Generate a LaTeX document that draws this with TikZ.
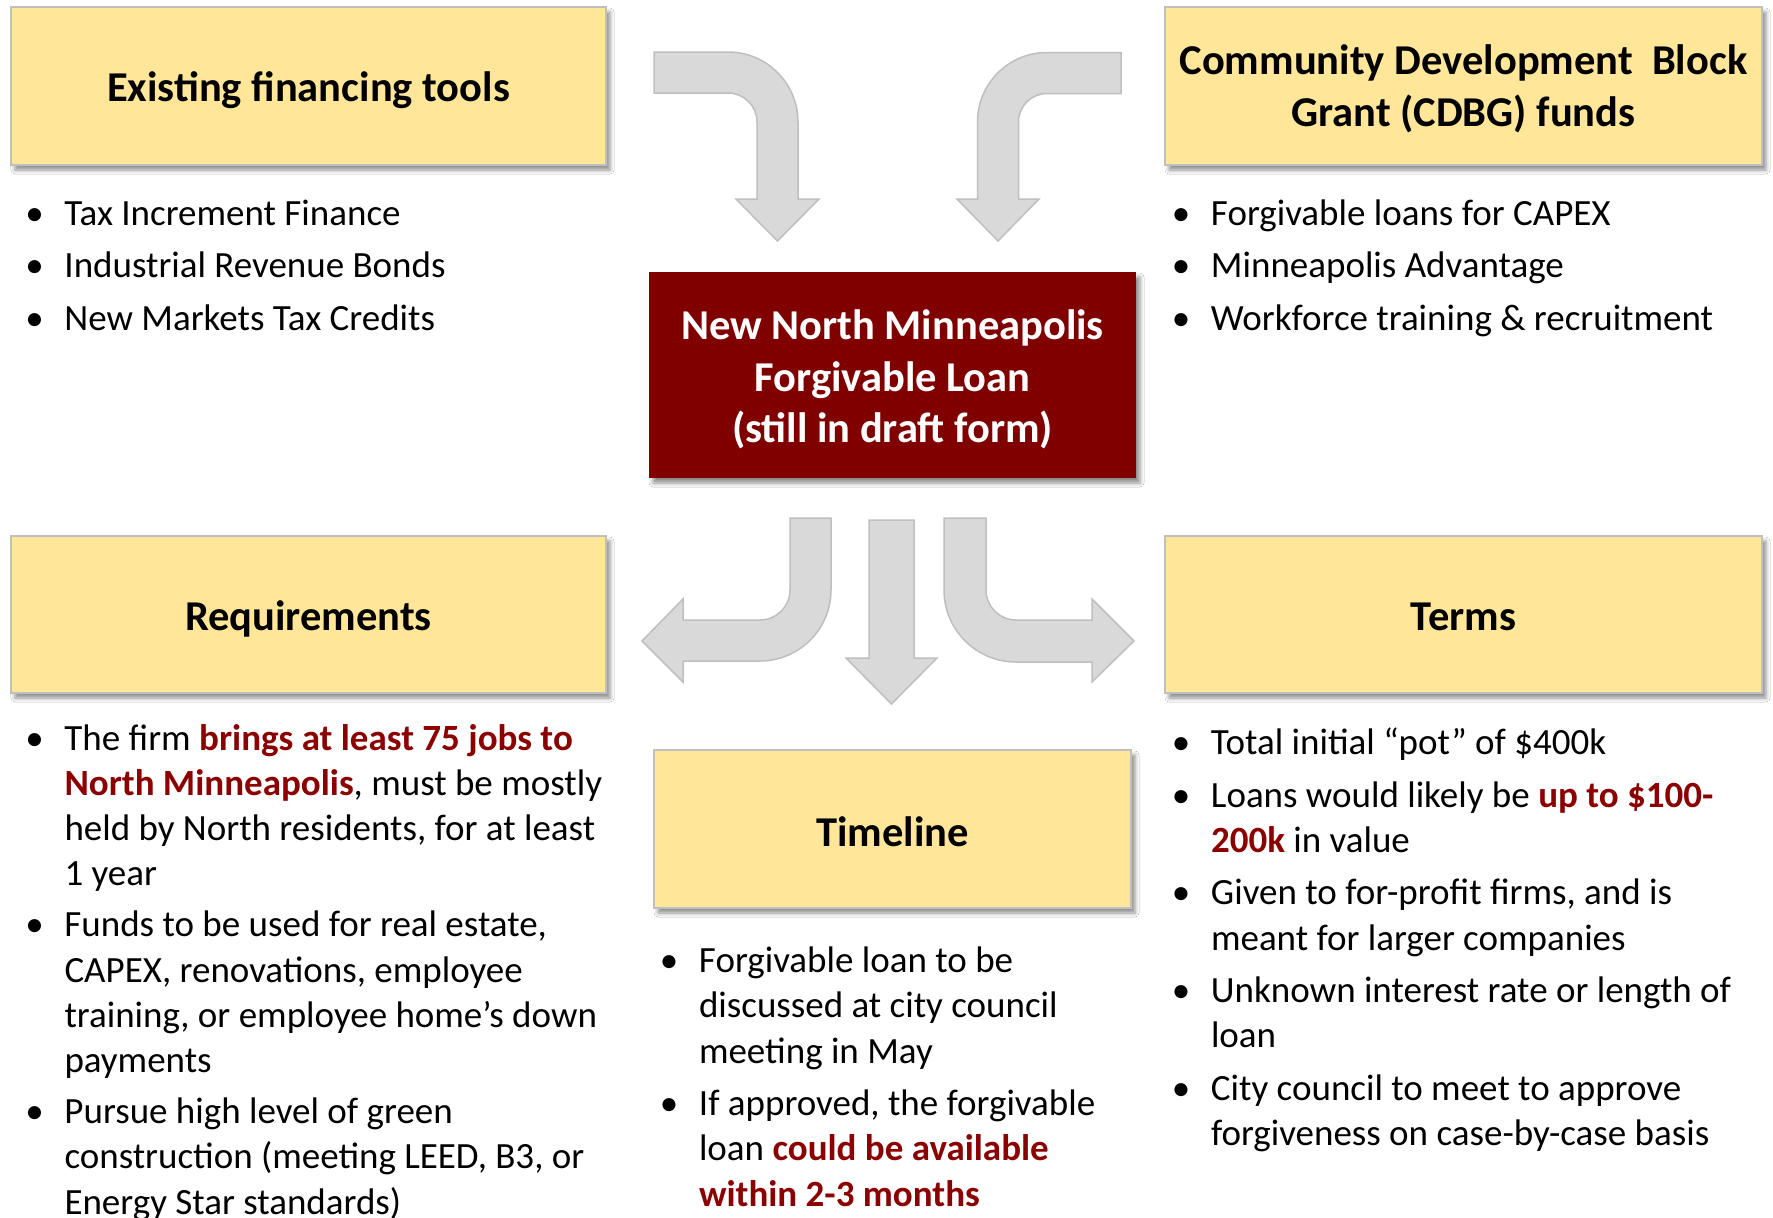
\documentclass[tikz,border=0pt]{standalone}
\usepackage{fontspec}
\setmainfont{Carlito}
\usetikzlibrary{shadows.blur}
\definecolor{boxyellow}{HTML}{FFE699}
\definecolor{boxborder}{HTML}{BFBFBF}
\definecolor{darkmaroon}{HTML}{800000}
\definecolor{hlred}{HTML}{8B0000}
\definecolor{arrowfill}{HTML}{D9D9D9}
\definecolor{arrowline}{HTML}{BFBFBF}
\newcommand{\redbold}[1]{{\bfseries\color{hlred}#1}}
\newcommand{\bulletmark}{\llap{\makebox[60pt][c]{•}}}
\tikzset{
  boxshadow/.style={blur shadow={shadow xshift=4pt, shadow yshift=-5pt, shadow blur radius=4pt, shadow opacity=45}},
  headbox/.style={draw=boxborder, line width=2pt, fill=boxyellow, minimum width=595pt, minimum height=158pt, boxshadow},
  mainbox/.style={fill=darkmaroon, minimum width=487pt, minimum height=206pt, boxshadow},
  titletext/.style={align=center, font=\fontsize{42.5}{51.5}\selectfont\bfseries},
  % base anchor of a multi-line node = baseline of its LAST line
  listtext/.style={anchor=base west, align=left, font=\fontsize{37}{45.2}\selectfont},
  blockarrow/.style={fill=arrowfill, draw=arrowline, line width=1.5pt, line join=miter}
}
\begin{document}
\begin{tikzpicture}[x=1pt, y=-1pt, every node/.style={inner sep=0pt, outer sep=0pt}]
\useasboundingbox (0,0) rectangle (1773,1218);
\fill[white] (0,0) rectangle (1773,1218);

% boxes
\node[headbox] (exist) at (308.5,86) {};
\node[headbox, minimum width=597pt] (cdbg) at (1463.5,86) {};
\node[mainbox] (loan) at (892.5,375) {};
\node[headbox, minimum height=157pt] (req) at (308.5,614.5) {};
\node[headbox, minimum width=597pt, minimum height=157pt] (terms) at (1463.5,614.5) {};
\node[headbox, minimum width=477pt] (time) at (892.5,829) {};

% box titles
\node[titletext] (existtitle) at ([yshift=-4.5pt]exist.center) {Existing financing tools};
\node[titletext] (cdbgtitle) at ([yshift=-3pt]cdbg.center) {Community Development~ Block\\Grant (CDBG) funds};
\node[titletext, text=white] (loantitle) at ([yshift=-4.5pt]loan.center) {New North Minneapolis\\Forgivable Loan\\(still in draft form)};
\node[titletext] (reqtitle) at ([yshift=-4.5pt]req.center) {Requirements};
\node[titletext] (termstitle) at ([yshift=-2pt]terms.center) {Terms};
\node[titletext] (timetitle) at ([yshift=-3pt]time.center) {Timeline};

% block arrows (top)
\draw[blockarrow] (654,52) -- (728,52) arc[start angle=270, end angle=360, radius=70]
  -- (798,199) -- (819,199) -- (777.5,241) -- (736,199) -- (757,199) -- (757,122)
  arc[start angle=0, end angle=-90, radius=29] -- (654,93) -- cycle;
\draw[blockarrow] (1121,52.5) -- (1047,52.5) arc[start angle=270, end angle=180, radius=69.5]
  -- (977.5,199) -- (957,199) -- (998,241) -- (1039,199) -- (1018.5,199) -- (1018.5,122)
  arc[start angle=180, end angle=270, radius=28.5] -- (1121,93.5) -- cycle;

% block arrows (bottom)
\draw[blockarrow] (790,518) -- (831,518) -- (831,590) arc[start angle=0, end angle=90, radius=71]
  -- (683,661) -- (683,682) -- (642,641) -- (683,599) -- (683,620) -- (760,620)
  arc[start angle=90, end angle=0, radius=30] -- cycle;
\draw[blockarrow] (869,520) -- (914,520) -- (914,658) -- (937,658) -- (891.5,704) -- (846,658) -- (869,658) -- cycle;
\draw[blockarrow] (944,518) -- (986,518) -- (986,590) arc[start angle=180, end angle=90, radius=30]
  -- (1092,620) -- (1092,599) -- (1134,641) -- (1092,682) -- (1092,662) -- (1016,662)
  arc[start angle=90, end angle=180, radius=72] -- cycle;

% lists (positioned by the baseline of their last line)
\node[listtext] (exlist) at (64.5,330) {\bulletmark Tax Increment Finance\\[7.3pt]
\bulletmark Industrial Revenue Bonds\\[7.3pt]
\bulletmark New Markets Tax Credits};

\node[listtext] (cdbglist) at (1211,330) {\bulletmark Forgivable loans for CAPEX\\[7.3pt]
\bulletmark Minneapolis Advantage\\[7.3pt]
\bulletmark Workforce training \& recruitment};

\node[listtext] (reqlist) at (64.5,1214) {\bulletmark The firm \redbold{brings at least 75 jobs to}\\
\redbold{North Minneapolis}, must be mostly\\
held by North residents, for at least\\
1 year\\[6pt]
\bulletmark Funds to be used for real estate,\\
CAPEX, renovations, employee\\
training, or employee home’s down\\
payments\\[6pt]
\bulletmark Pursue high level of green\\
construction (meeting LEED, B3, or\\
Energy Star standards)};

\node[listtext] (timelist) at (699,1206) {\bulletmark Forgivable loan to be\\
discussed at city council\\
meeting in May\\[7.3pt]
\bulletmark If approved, the forgivable\\
loan \redbold{could be available}\\
\redbold{within 2-3 months}};

\node[listtext] (termlist) at (1211,1145.5) {\bulletmark Total initial “pot” of \$400k\\[7.3pt]
\bulletmark Loans would likely be \redbold{up to \$100-}\\
\redbold{200k} in value\\[7.3pt]
\bulletmark Given to for-profit firms, and is\\
meant for larger companies\\[7.3pt]
\bulletmark Unknown interest rate or length of\\
loan\\[7.3pt]
\bulletmark City council to meet to approve\\
forgiveness on case-by-case basis};
\end{tikzpicture}
\end{document}
